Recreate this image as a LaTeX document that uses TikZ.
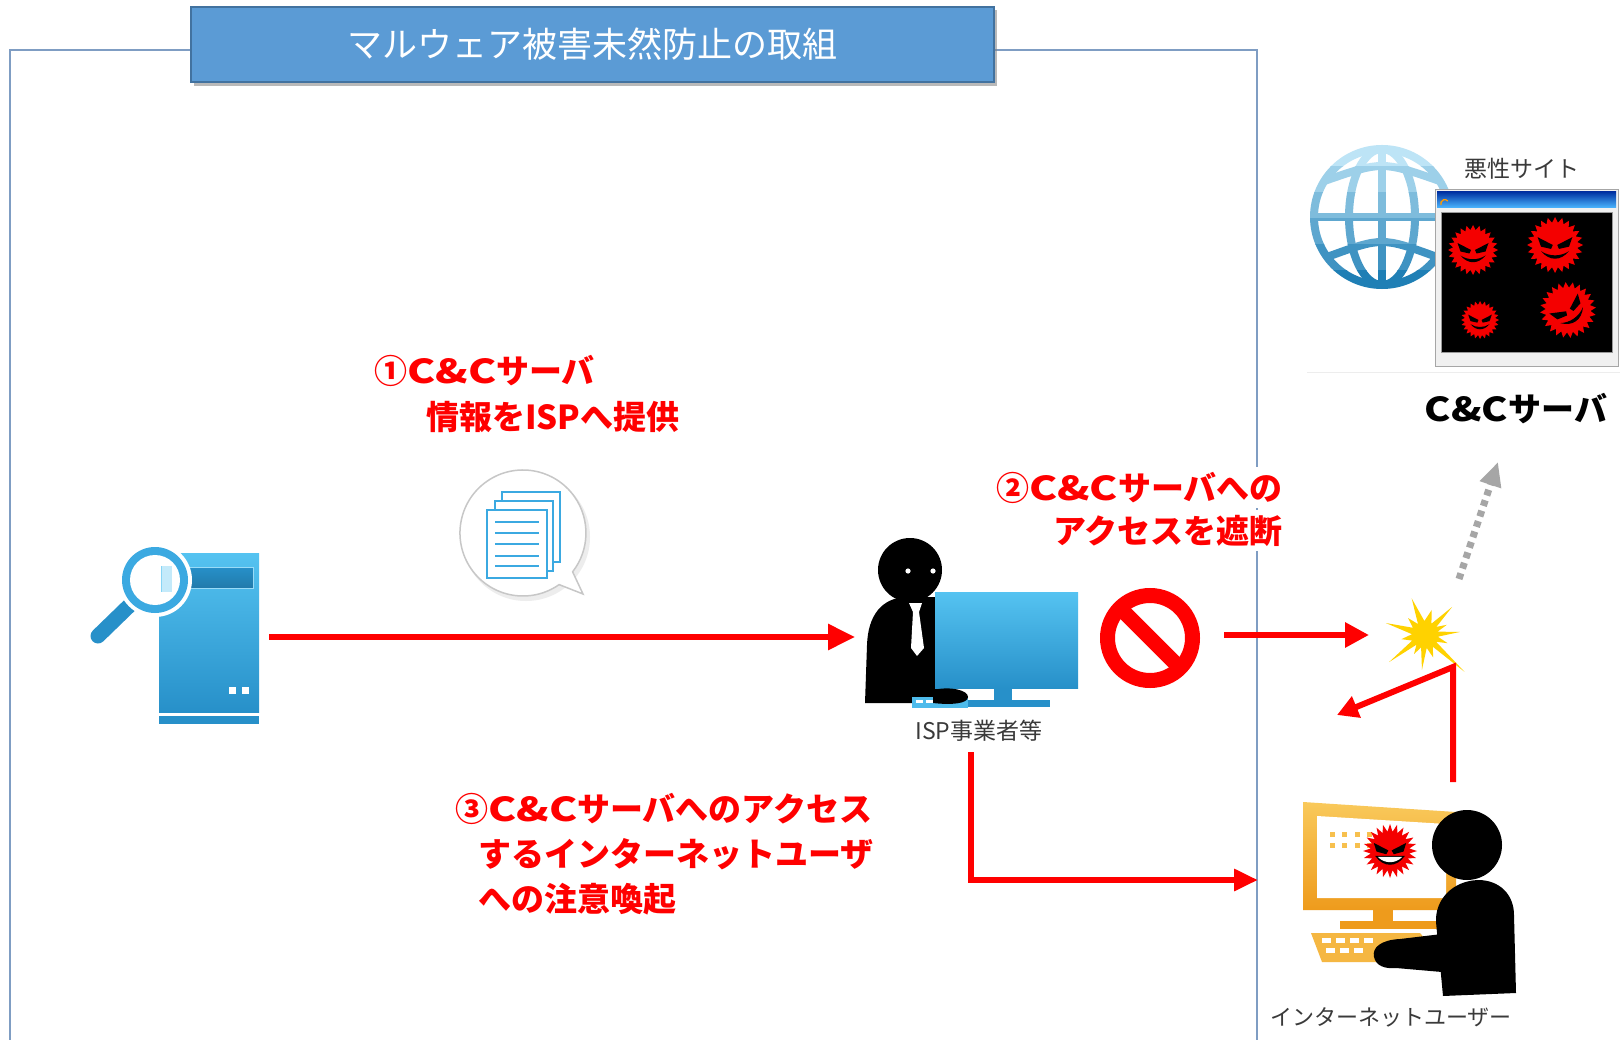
\documentclass[tikz,border=0pt]{standalone}
\usepackage{fontspec}
\newfontfamily\jp{Noto Sans CJK JP}
\usetikzlibrary{arrows.meta,calc}

\definecolor{frameline}{HTML}{7F9DC3}
\definecolor{titlefill}{HTML}{5B9BD5}
\definecolor{titledraw}{HTML}{42729F}
\definecolor{arrred}{HTML}{FF0000}
\definecolor{grayarr}{HTML}{A6A6A6}
\definecolor{iconlt}{HTML}{55C3F1}
\definecolor{icondk}{HTML}{2790C9}
\definecolor{docblue}{HTML}{3BA9E1}
\definecolor{orlt}{HTML}{F9C95B}
\definecolor{ordk}{HTML}{EE9B1C}
\definecolor{burst}{HTML}{FFD200}
\definecolor{globelt}{HTML}{BDE4F6}
\definecolor{globedk}{HTML}{1F7FB5}
\definecolor{labelgray}{HTML}{3A3A3A}
\definecolor{virred}{HTML}{F40000}

% wide Latin letters as in the labels
\newcommand{\wideCC}{\scalebox{1.28}[1]{C\&C}}

\tikzset{
  framestroke/.style={draw=frameline, line width=1.3pt},
  redarrow/.style={draw=arrred, line width=6pt, -{Triangle[length=27pt,width=25pt]}},
  redarrowsm/.style={draw=arrred, line width=6pt, -{Triangle[length=21pt,width=22pt]}},
  grayarrow/.style={draw=grayarr, line width=7pt, dash pattern=on 6pt off 5pt,
    -{Triangle[length=24pt,width=21pt]}},
  redlbl/.style={text=arrred, font=\jp\bfseries\fontsize{33pt}{40pt}\selectfont, inner sep=0pt},
  smalllbl/.style={text=labelgray, font=\jp\fontsize{22pt}{26pt}\selectfont, inner sep=0pt},
  virus/.pic={
    \fill[virred] (0:1) \foreach \i in {1,...,47}{ -- ({\i*7.5}:{ifthenelse(mod(\i,2)==0,1,0.8)}) } -- cycle;
    \fill[black] (-0.62,-0.28) -- (-0.08,0.0) -- (-0.14,0.14) -- (-0.5,0.06) -- cycle;
    \fill[black] (0.62,-0.28) -- (0.08,0.0) -- (0.14,0.14) -- (0.5,0.06) -- cycle;
    \fill[black] (-0.5,0.22) .. controls (-0.2,0.58) and (0.2,0.58) .. (0.5,0.22)
      .. controls (0.2,0.42) and (-0.2,0.42) .. (-0.5,0.22) -- cycle;
  },
  grinvirus/.pic={
    \fill[virred] (0:1) \foreach \i in {1,...,47}{ -- ({\i*7.5}:{ifthenelse(mod(\i,2)==0,1,0.72)}) } -- cycle;
    \fill[black] (-0.6,-0.3) -- (-0.06,-0.02) -- (-0.14,0.12) -- (-0.5,0.02) -- cycle;
    \fill[black] (0.6,-0.3) -- (0.06,-0.02) -- (0.14,0.12) -- (0.5,0.02) -- cycle;
    \fill[black] (-0.55,0.18) .. controls (-0.25,0.62) and (0.25,0.62) .. (0.55,0.18) -- cycle;
    \fill[white] (-0.45,0.22) .. controls (-0.2,0.48) and (0.2,0.48) .. (0.45,0.22) -- cycle;
  },
  globe/.pic={
    \draw (0,0) circle (68);
    \draw (0,-68) -- (0,68);
    \draw (0,0) ellipse (33 and 68);
    \draw (-68,0) -- (68,0);
    \draw (-57.7,-36) .. controls (0,-56) .. (57.7,-36);
    \draw (-55,40) .. controls (0,20) .. (55,40);
  }
}

\begin{document}
\begin{tikzpicture}[x=1pt,y=-1pt]
\useasboundingbox (0,0) rectangle (1620,1040);
\fill[white] (0,0) rectangle (1620,1040);

% ---------- outer frame ----------
\draw[framestroke] (191,50) -- (10,50) -- (10,1042);
\draw[framestroke] (994,50) -- (1257,50) -- (1257,1042);

% ---------- title ----------
\fill[black!50, opacity=.55] (194,10) rectangle (997,86);
\node[fill=titlefill, draw=titledraw, line width=1.5pt, minimum width=803pt, minimum height=75pt,
      inner sep=0pt, text=white, font=\jp\fontsize{35pt}{40pt}\selectfont]
      (title) at (592.5,44.5) {マルウェア被害未然防止の取組};

% ---------- analysis server with magnifier ----------
\shade[top color=iconlt, bottom color=icondk] (159,553) rectangle (259,712);
\shade[top color=icondk, bottom color=icondk!85!black, draw=iconlt!60!white, line width=1pt]
      (163,567) rectangle (253,588);
\fill[icondk] (159,716) rectangle (259,724);
\fill[white] (229,687) rectangle (236,694);
\fill[white] (242,687) rectangle (249,694);
\draw[icondk, line width=15pt, line cap=round] (131,604) -- (98,636);
\fill[white] (155,580) circle (37);
\fill[docblue] (155,580) circle (33);
\fill[white] (155,580) circle (25);
\begin{scope}
  \clip (155,580) circle (25);
  \fill[iconlt!35!white] (161,566) rectangle (172,592);
  \draw[iconlt!70!white, line width=1pt] (161,566) -- (161,592);
\end{scope}
\coordinate (srvout) at (269,637);

% ---------- document bubble ----------
\fill[black!7] (526,537) circle (64);
\draw[fill=white, draw=black!22, line width=1.5pt]
  (559.1,584.6) arc[start angle=55, end angle=398, radius=63] -- (583,594) -- cycle;
\draw[fill=white, draw=docblue, line width=2.5pt] (502,492) rectangle (560,562);
\draw[fill=white, draw=docblue, line width=2.5pt] (495,501) rectangle (553,571);
\draw[fill=white, draw=docblue, line width=2.5pt] (487,510) rectangle (547,578);
\foreach \y in {522,533,544,556,566} \draw[docblue, line width=2.5pt] (495,\y) -- (539,\y);

% ---------- ISP operator ----------
\fill[black] (865,703) -- (867,645) .. controls (868,615) and (882,598) .. (906,597)
   -- (940,597) -- (940,703) -- cycle;
\fill[black] (910,570) circle (32);
\fill[white] (908,571) circle (2.6);
\fill[white] (933,571) circle (2.6);
\fill[white] (909,603) -- (922,603) -- (919,612) -- (924,648) -- (917,656) -- (911,648) -- (913,612) -- cycle;
\shade[top color=iconlt, bottom color=icondk] (935,592) rectangle (1078,688);
\fill[icondk] (994,688) rectangle (1012,701);
\fill[icondk] (968,700) rectangle (1050,707);
\fill[iconlt!85!icondk] (912,697) rectangle (968,708);
\foreach \x in {916,926,936,946} \fill[white] (\x,700) rectangle +(7,3);
\fill[black] (933,690) .. controls (950,686) and (968,690) .. (968,697)
   .. controls (968,704) and (950,705) .. (933,703) -- cycle;
\node[smalllbl, font=\jp\fontsize{23pt}{26pt}\selectfont, anchor=base] (isplbl) at (979,739) {ISP事業者等};
\coordinate (ispin) at (855,637);
\coordinate (ispdown) at (971,752);

% ---------- no-entry sign ----------
\coordinate (noentry) at (1150,638);
\draw[arrred, line width=15pt] (noentry) circle (42.5);
\draw[arrred, line width=15pt] (noentry) +(225:43) -- +(45:43);
\coordinate (noout) at (1224,635);

% ---------- collision burst ----------
\coordinate (burstc) at (1425,635);
\fill[burst] (burstc) ++(-5:35) -- ++(0,0)
  -- ($(burstc)+(7.5:13)$) -- ($(burstc)+(20:24)$) -- ($(burstc)+(31.5:13)$)
  -- ($(burstc)+(43:54)$) -- ($(burstc)+(56.5:14)$) -- ($(burstc)+(70:24)$)
  -- ($(burstc)+(82.5:13)$) -- ($(burstc)+(95:35)$) -- ($(burstc)+(107.5:13)$)
  -- ($(burstc)+(120:22)$) -- ($(burstc)+(131.5:13)$) -- ($(burstc)+(143:45)$)
  -- ($(burstc)+(156.5:14)$) -- ($(burstc)+(170:24)$) -- ($(burstc)+(183.5:13)$)
  -- ($(burstc)+(197:41)$) -- ($(burstc)+(211:14)$) -- ($(burstc)+(225:24)$)
  -- ($(burstc)+(237.5:13)$) -- ($(burstc)+(250:39)$) -- ($(burstc)+(267.5:14)$)
  -- ($(burstc)+(285:26)$) -- ($(burstc)+(299.5:13)$) -- ($(burstc)+(314:39)$)
  -- ($(burstc)+(324.5:14)$) -- ($(burstc)+(335:24)$) -- ($(burstc)+(345:13)$) -- cycle;
\coordinate (burstin) at (1369,635);
\coordinate (burstcorner) at (1453,667);
\coordinate (burstup) at (1459,579);
\coordinate (backtip) at (1337,715);

% ---------- C&C server ----------
\foreach \k in {0,...,5} {
  \pgfmathtruncatemacro\p{\k*20}
  \begin{scope}
    \clip (1300,{141+\k*26}) rectangle (1465,{141+(\k+1)*26});
    \pic[color=globedk!\p!globelt, line width=8pt] at (1382,217) {globe};
  \end{scope}
}
\draw[black!7, line width=1pt] (1307,373) -- (1620,373);
\fill[black!6, draw=black!35, line width=1pt] (1435,190) rectangle (1618,367);
\shade[top color=blue!55!black!80!cyan, bottom color=cyan!60!blue!70] (1437,192) rectangle (1616,208);
\draw[orange!80!yellow, line width=1.3pt] (1441,205) arc[start angle=160, end angle=320, radius=4];
\fill[black, draw=black!40, line width=1pt] (1441,213) rectangle (1612,353);
\pic[scale=25] at (1473,250) {virus};
\pic[scale=28] at (1555,245) {virus};
\pic[scale=19] at (1480,320) {virus};
\pic[scale=28, rotate=35] at (1568,310) {virus};
\node[smalllbl, font=\jp\fontsize{23pt}{26pt}\selectfont, anchor=base] (maltext) at (1522,178) {悪性サイト};
\node[redlbl, text=black, anchor=base] (cclbl) at (1516,421) {\scalebox{1.2}[1]{C\&C}サーバ};
\coordinate (ccin) at (1498,462);

% ---------- internet user ----------
\shade[top color=orlt, bottom color=ordk] (1303,802) -- (1456,812) -- (1456,910) -- (1303,910) -- cycle;
\fill[white] (1317,816) -- (1446,824) -- (1446,898) -- (1317,898) -- cycle;
\fill[ordk] (1373,910) rectangle (1393,922);
\fill[ordk] (1340,921) rectangle (1437,929);
\fill[orlt!60!ordk] (1311,933) -- (1420,933) -- (1445,962) -- (1322,962) -- cycle;
\foreach \x in {1322,1336,1350,1364} \fill[white] (\x,938) rectangle +(9,5);
\foreach \x in {1326,1340,1354} \fill[white] (\x,948) rectangle +(9,5);
\foreach \x in {1330,1342,1355,1367} \foreach \y in {832,843} \fill[orlt!80!ordk] (\x,\y) rectangle +(5,5);
\pic[scale=27] at (1390,851) {grinvirus};
\fill[black] (1467,845) circle (35);
\fill[black] (1443,996) -- (1436,922) .. controls (1435,900) and (1452,881) .. (1478,880)
   .. controls (1500,880) and (1514,895) .. (1514,915) -- (1516,993) -- cycle;
\fill[black] (1442,934) -- (1400,939) .. controls (1380,940) and (1372,948) .. (1374,957)
   .. controls (1376,966) and (1385,969) .. (1396,968) -- (1442,972) -- cycle;
\node[smalllbl, anchor=base] (userlbl) at (1391,1025) {インターネットユーザー};
\coordinate (userin) at (1258,880);
\coordinate (userup) at (1453,782);

% ---------- step labels ----------
\node[redlbl, anchor=base west] (s1a) at (374,384) {①\wideCC サーバ};
\node[redlbl, anchor=base west] (s1b) at (426,430) {情報をISPへ提供};
\node[redlbl, anchor=base east, fill=white, inner ysep=5pt] (s2a) at (1283,500) {②\wideCC サーバへの};
\node[redlbl, anchor=base east, fill=white, inner ysep=5pt] (s2b) at (1283,543) {アクセスを遮断};
\node[redlbl, anchor=base west] (s3a) at (455,821) {③\wideCC サーバへのアクセス};
\node[redlbl, anchor=base west] (s3b) at (478,866) {するインターネットユーザ};
\node[redlbl, anchor=base west] (s3c) at (478,911) {への注意喚起};

% ---------- connectors ----------
\draw[redarrow] (srvout) -- (ispin);
\draw[redarrow, -{Triangle[length=24pt,width=21pt]}] (ispdown) |- (userin);
\draw[redarrow, -{Triangle[length=24pt,width=24pt]}] (noout) -- (burstin);
\draw[redarrowsm] (userup) -- (burstcorner) -- (backtip);
\draw[grayarrow] (burstup) -- (ccin);

\end{tikzpicture}
\end{document}
